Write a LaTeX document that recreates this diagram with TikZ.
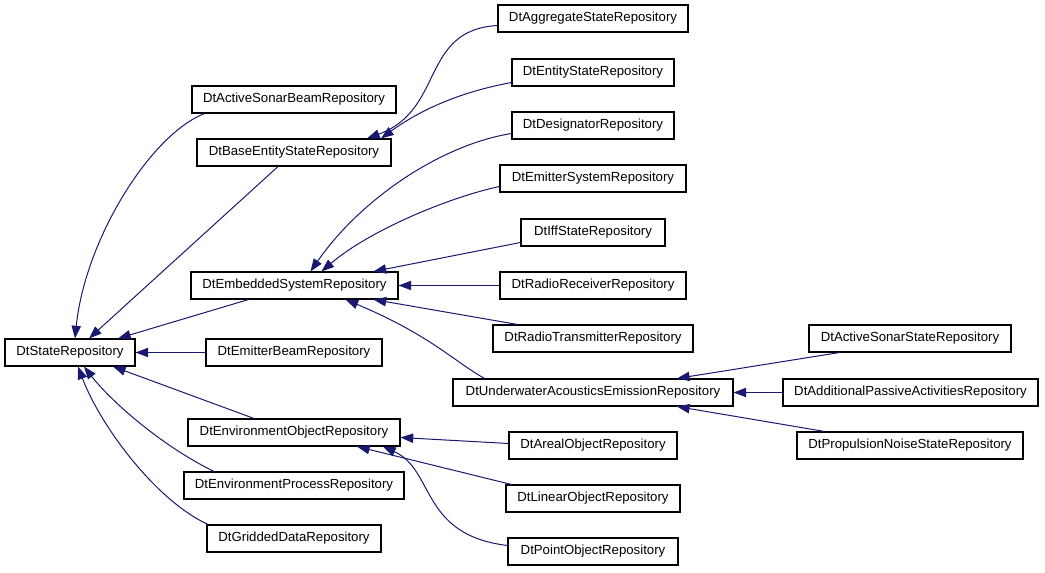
\documentclass[tikz,border=0pt]{standalone}
\usepackage{fontspec}
\setmainfont{Liberation Sans}
\usetikzlibrary{arrows.meta,calc}
\definecolor{edgec}{HTML}{191970}
\begin{document}
\begin{tikzpicture}[x=0.75pt,y=-0.75pt,
  cls/.style={draw=black, line width=0.8pt, fill=white, minimum height=20.25pt, inner sep=0pt, font=\fontsize{9.9}{12}\selectfont},
  inh/.style={draw=edgec, line width=0.75pt, -{Triangle[length=9.5pt,width=7pt]}}]
\useasboundingbox[fill=white] (0,0) rectangle (1045,573);
% column 1
\node[cls, minimum width={130*0.75pt}] (state) at (70,352.5) {DtStateRepository};
% column 2
\node[cls, minimum width={204*0.75pt}] (asb) at (294,99.5) {DtActiveSonarBeamRepository};
\node[cls, minimum width={194*0.75pt}] (base) at (294,152.5) {DtBaseEntityStateRepository};
\node[cls, minimum width={207*0.75pt}] (emb) at (294.5,285.5) {DtEmbeddedSystemRepository};
\node[cls, minimum width={176*0.75pt}] (ebeam) at (294,352.5) {DtEmitterBeamRepository};
\node[cls, minimum width={212*0.75pt}] (eobj) at (294,432.5) {DtEnvironmentObjectRepository};
\node[cls, minimum width={220*0.75pt}] (eproc) at (294,485.5) {DtEnvironmentProcessRepository};
\node[cls, minimum width={174*0.75pt}] (grid) at (294,538.5) {DtGriddedDataRepository};
% column 3
\node[cls, minimum width={190*0.75pt}] (agg) at (593,18.5) {DtAggregateStateRepository};
\node[cls, minimum width={162*0.75pt}] (ent) at (593,72.5) {DtEntityStateRepository};
\node[cls, minimum width={162*0.75pt}] (des) at (593,125.5) {DtDesignatorRepository};
\node[cls, minimum width={186*0.75pt}] (esys) at (593,178.5) {DtEmitterSystemRepository};
\node[cls, minimum width={144*0.75pt}] (iff) at (593,232.5) {DtIffStateRepository};
\node[cls, minimum width={186*0.75pt}] (rrx) at (593,285.5) {DtRadioReceiverRepository};
\node[cls, minimum width={200*0.75pt}] (rtx) at (593,338.5) {DtRadioTransmitterRepository};
\node[cls, minimum width={280*0.75pt}] (uae) at (593,392.5) {DtUnderwaterAcousticsEmissionRepository};
\node[cls, minimum width={168*0.75pt}] (areal) at (593,445.5) {DtArealObjectRepository};
\node[cls, minimum width={174*0.75pt}] (lin) at (593,498.5) {DtLinearObjectRepository};
\node[cls, minimum width={170*0.75pt}] (pt) at (593,551.5) {DtPointObjectRepository};
% column 4
\node[cls, minimum width={202*0.75pt}] (ass) at (910,338.5) {DtActiveSonarStateRepository};
\node[cls, minimum width={255*0.75pt}] (apa) at (910.5,392.5) {DtAdditionalPassiveActivitiesRepository};
\node[cls, minimum width={226*0.75pt}] (pns) at (910,445.5) {DtPropulsionNoiseStateRepository};
% edges to DtStateRepository
\draw[inh] ($(asb.south west)+(13,0)$) .. controls (150,135) and (85,240) .. ($(state.north)+(5,0)$);
\draw[inh] ($(base.south)+(-16,0)$) -- ($(state.north)+(19,0)$);
\draw[inh] ($(emb.south)+(-46,0)$) -- ($(state.north)+(48,0)$);
\draw[inh] (ebeam.west) -- (state.east);
\draw[inh] ($(eobj.north)+(-40,0)$) -- ($(state.south)+(43,0)$);
\draw[inh] ($(eproc.north)+(-80,0)$) .. controls (160,445) and (110,400) .. ($(state.south)+(14,0)$);
\draw[inh] ($(grid.north)+(-86,0)$) .. controls (155,500) and (100,425) .. ($(state.south)+(8,0)$);
% edges to DtBaseEntityStateRepository
\draw[inh] ($(agg.west)+(0,7)$) .. controls (420,30) and (445,110) .. ($(base.north)+(73,0)$);
\draw[inh] ($(ent.west)+(0,10)$) .. controls (460,92) and (420,110) .. ($(base.north)+(87,0)$);
% edges to DtEmbeddedSystemRepository
\draw[inh] ($(des.west)+(0,8)$) .. controls (440,145) and (360,200) .. ($(emb.north)+(16,0)$);
\draw[inh] ($(esys.west)+(0,8)$) .. controls (450,197) and (370,230) .. ($(emb.north)+(27,0)$);
\draw[inh] ($(iff.west)+(0,10)$) -- ($(emb.north)+(79,0)$);
\draw[inh] (rrx.west) -- (emb.east);
\draw[inh] ($(rtx.north west)+(25,0)$) -- ($(emb.south)+(79,0)$);
\draw[inh] ($(uae.north west)+(32,0)$) .. controls (455,362) and (430,335) .. ($(emb.south)+(51,0)$);
% edges to DtUnderwaterAcousticsEmissionRepository
\draw[inh] ($(ass.south west)+(31,0)$) -- ($(uae.north)+(84,0)$);
\draw[inh] (apa.west) -- (uae.east);
\draw[inh] ($(pns.north west)+(28,0)$) -- ($(uae.south)+(84,0)$);
% edges to DtEnvironmentObjectRepository
\draw[inh] ($(areal.west)+(0,-2)$) -- ($(eobj.east)+(0,5)$);
\draw[inh] ($(lin.north west)+(6,0)$) -- ($(eobj.south)+(63,0)$);
\draw[inh] ($(pt.west)+(0,-6)$) .. controls (420,535) and (435,470) .. ($(eobj.south)+(89,0)$);
\end{tikzpicture}
\end{document}
